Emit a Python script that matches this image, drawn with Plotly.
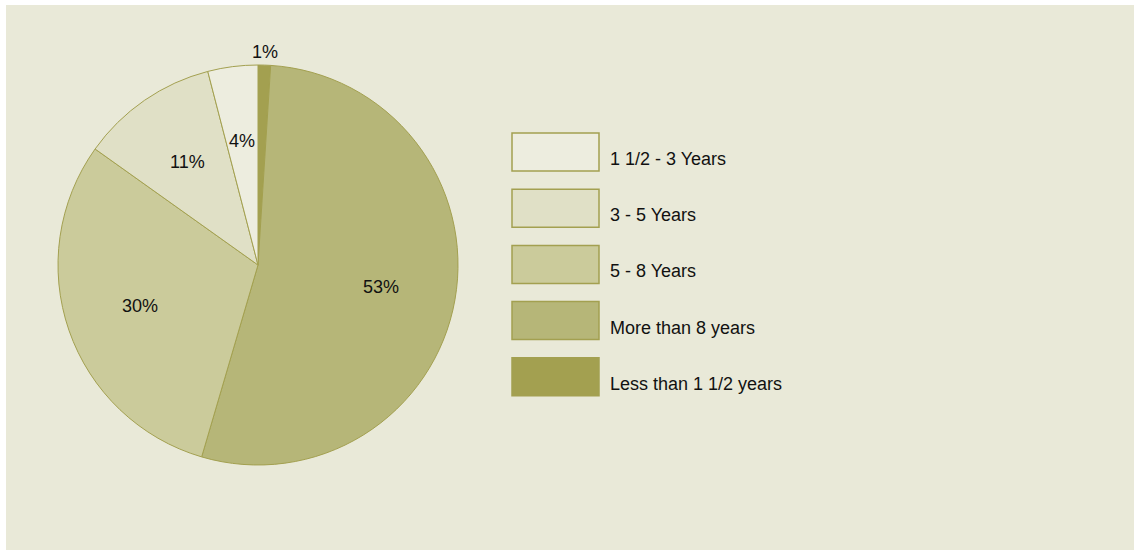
import math
import plotly.graph_objects as go

labels = ["Less than 1 1/2 years", "More than 8 years", "5 - 8 Years", "3 - 5 Years", "1 1/2 - 3 Years"]
values = [1, 53, 30, 11, 4]
colors = ["#A3A050", "#B6B678", "#CBCB9B", "#E0E0C6", "#EDEDDF"]

legend_labels = ["1 1/2 - 3 Years", "3 - 5 Years", "5 - 8 Years", "More than 8 years", "Less than 1 1/2 years"]

W, H = 1134, 550
BG = "#E9E9D8"
EDGE = "#A3A050"
FONT = "Liberation Sans, Arial, Helvetica, sans-serif"
TXT = "#111111"

# pie geometry (pixels)
CX, CY, R = 258, 265, 200

fig = go.Figure()
fig.add_trace(go.Pie(
    labels=labels, values=values, sort=False, direction="clockwise", rotation=0,
    marker=dict(colors=colors, line=dict(color=EDGE, width=1)),
    textinfo="none",
    domain=dict(x=[(CX - R) / W, (CX + R) / W], y=[(H - CY - R) / H, (H - CY + R) / H]),
    showlegend=False, hoverinfo="label+percent",
))

annotations = []
total = sum(values)
cum = 0
for v in values:
    mid = (cum + v / 2) / total * 2 * math.pi
    cum += v
    frac = v / total
    r = 213 if frac < 0.02 else 125
    px = CX + r * math.sin(mid)
    py = CY - r * math.cos(mid)
    annotations.append(dict(xref="paper", yref="paper", x=px / W, y=1 - py / H,
                            text=f"{v}%", showarrow=False, xanchor="center", yanchor="middle",
                            font=dict(family=FONT, size=18, color=TXT)))

shapes = [dict(type="rect", xref="paper", yref="paper", x0=6 / W, x1=1, y0=0, y1=1 - 5 / H,
               fillcolor=BG, line=dict(width=0), layer="below")]
top = 133
step = 56.2
color_map = dict(zip(labels, colors))
for i, lab in enumerate(legend_labels):
    y0 = top + i * step
    y1 = y0 + 38
    shapes.append(dict(type="rect", xref="paper", yref="paper",
                       x0=512 / W, x1=599 / W, y0=1 - y1 / H, y1=1 - y0 / H,
                       fillcolor=color_map[lab], line=dict(color=EDGE, width=1.5)))
    annotations.append(dict(xref="paper", yref="paper", x=608 / W, y=1 - (y0 + 26) / H,
                            text=lab, showarrow=False, xanchor="left", yanchor="middle",
                            font=dict(family=FONT, size=18, color=TXT)))

fig.update_layout(
    width=W, height=H, margin=dict(l=0, r=0, t=0, b=0),
    paper_bgcolor="white", plot_bgcolor="white",
    shapes=shapes, annotations=annotations,
)
fig.write_html("out.html")
